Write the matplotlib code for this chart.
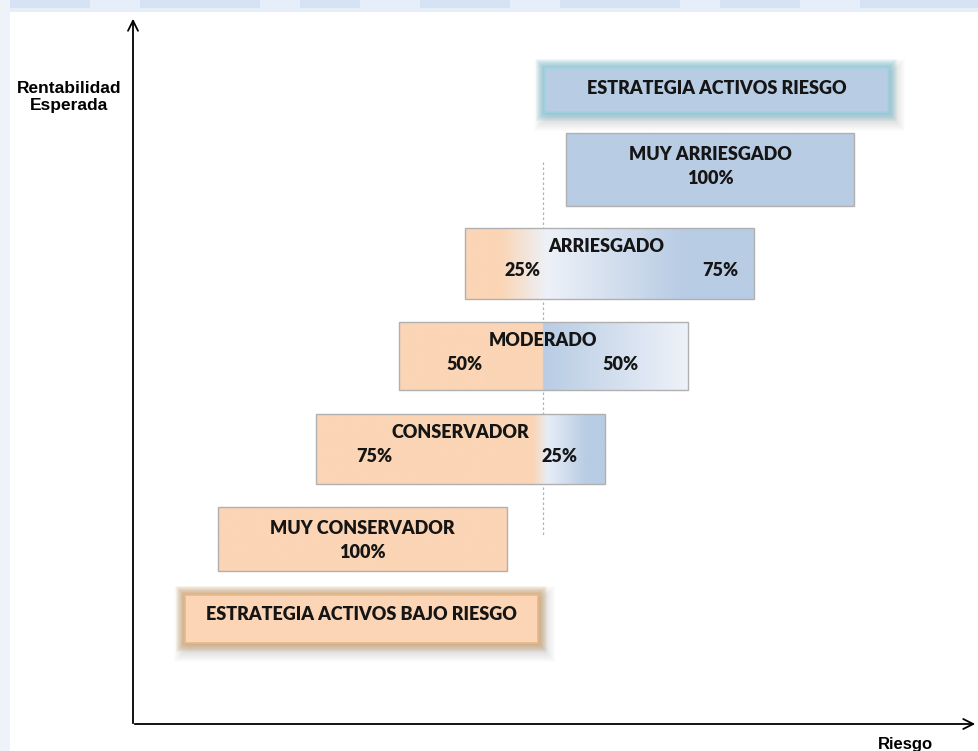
import numpy as np
import matplotlib
matplotlib.use("Agg")
import matplotlib.pyplot as plt
from matplotlib.colors import to_rgb
from matplotlib.patches import Rectangle

# Data: investor profiles and how the portfolio splits between low-risk and risky assets
profiles = ["MUY ARRIESGADO", "ARRIESGADO", "MODERADO", "CONSERVADOR", "MUY CONSERVADOR"]
low_risk_pct = [0, 25, 50, 75, 100]
high_risk_pct = [100, 75, 50, 25, 0]
strategies = ["ESTRATEGIA ACTIVOS RIESGO", "ESTRATEGIA ACTIVOS BAJO RIESGO"]
x_label = "Riesgo"
y_label = "Rentabilidad\nEsperada"

# Layout (pixel space of the picture)
box_x = [(566, 854), (465, 754), (399, 688), (316, 605), (218, 507)]
box_y = [(133, 206), (228, 299), (322, 390), (414, 484), (507, 571)]
split_x = 543

ORANGE = "#FBD5B5"
BLUE = "#B8CCE4"
TEXT = "#151515"
BOX_FONT = ["Lato", "DejaVu Sans"]
FS = 13

# gradient stops per box: (x, colour)
gradients = [
    [(566, BLUE), (854, BLUE)],
    [(465, ORANGE), (500, ORANGE), (547, "#EDF1F8"), (683, BLUE), (754, BLUE)],
    [(399, ORANGE), (542.5, ORANGE), (543.5, BLUE), (688, "#EEF2F9")],
    [(316, ORANGE), (533, ORANGE), (548, "#E6EDF7"), (587, BLUE), (605, BLUE)],
    [(218, ORANGE), (507, ORANGE)],
]

fig = plt.figure(figsize=(9.79, 7.51), dpi=100)
ax = fig.add_axes([0, 0, 1, 1])
ax.set_xlim(0, 979)
ax.set_ylim(751, 0)
ax.axis("off")

# faint background decoration at top and left edge
ax.add_patch(Rectangle((0, 0), 979, 12, color="#E6EEF9", lw=0, zorder=0))
for x0, w in [(0, 90), (140, 120), (300, 60), (420, 90), (560, 120), (720, 80), (860, 119)]:
    ax.add_patch(Rectangle((x0, 0), w, 8, color="#D6E3F5", lw=0, zorder=0))
ax.add_patch(Rectangle((0, 0), 10, 751, color="#EEF3FA", lw=0, zorder=0))

# axes arrows
ax.annotate("", xy=(133, 16), xytext=(133, 726),
            arrowprops=dict(arrowstyle="->", lw=1.3, color="black", mutation_scale=18))
ax.annotate("", xy=(978, 724), xytext=(132, 724),
            arrowprops=dict(arrowstyle="->", lw=1.3, color="black", mutation_scale=18))
ax.text(69, 97, y_label, ha="center", va="center", fontsize=12.5, fontweight="bold",
        family="Liberation Sans", linespacing=1.2)
ax.text(905, 744, x_label, ha="center", va="center", fontsize=12, fontweight="bold",
        family="Liberation Sans")

# dashed split line
ax.plot([split_x, split_x], [162, 537], color="#9DB4D8", lw=0.9, ls=(0, (2, 2)), zorder=1)


def glow_box(x0, x1, y0, y1, face, glow, edge, text):
    w, h = x1 - x0, y1 - y0
    for i in range(14, 0, -1):
        ax.add_patch(Rectangle((x0 - i + 3, y0 - i + 5), w + 2 * i, h + 2 * i,
                               color="#808080", alpha=0.02, lw=0, zorder=2))
    for i in range(9, 0, -1):
        ax.add_patch(Rectangle((x0 - i, y0 - i), w + 2 * i, h + 2 * i,
                               color=glow, alpha=0.09, lw=0, zorder=3))
    ax.add_patch(Rectangle((x0, y0), w, h, facecolor=face, edgecolor=edge, lw=1.2, zorder=4))
    ax.text((x0 + x1) / 2, y0 + 20, text, ha="center", va="center", fontsize=FS,
            fontweight="heavy", family=BOX_FONT, color=TEXT, zorder=5)


glow_box(545, 888, 68, 112, BLUE, "#6BBAD0", "#9FD3E2", strategies[0])
glow_box(185, 538, 595, 643, ORANGE, "#C99355", "#E8B888", strategies[1])

for i, name in enumerate(profiles):
    x0, x1 = box_x[i]
    y0, y1 = box_y[i]
    stops = gradients[i]
    xs = np.linspace(x0, x1, 400)
    sx = [s[0] for s in stops]
    cols = np.array([to_rgb(s[1]) for s in stops])
    img = np.stack([np.interp(xs, sx, cols[:, c]) for c in range(3)], axis=-1)[None, :, :]
    ax.imshow(img, extent=(x0, x1, y1, y0), aspect="auto", interpolation="bilinear", zorder=3)
    ax.add_patch(Rectangle((x0, y0), x1 - x0, y1 - y0, fill=False, edgecolor="#B0B0B0",
                           lw=1.0, zorder=4))
    low, high = low_risk_pct[i], high_risk_pct[i]
    cx = (x0 + x1) / 2
    kw = dict(ha="center", va="center", fontsize=FS, fontweight="heavy",
              family=BOX_FONT, color=TEXT, zorder=5)
    if low == 0 or high == 0:
        ax.text(cx, y0 + 22, name, **kw)
        ax.text(cx, y0 + 45, f"{max(low, high)}%", **kw)
    else:
        tx = {1: (606, 523, 720), 2: (543, 464, 620), 3: (460, 374, 560)}[i]
        ax.text(tx[0], y0 + 18, name, **kw)
        ax.text(tx[1], y0 + 42, f"{low}%", **kw)
        ax.text(tx[2], y0 + 42, f"{high}%", **kw)

ax.set_xlim(0, 979)
ax.set_ylim(751, 0)
fig.savefig("out.png", dpi=100)
